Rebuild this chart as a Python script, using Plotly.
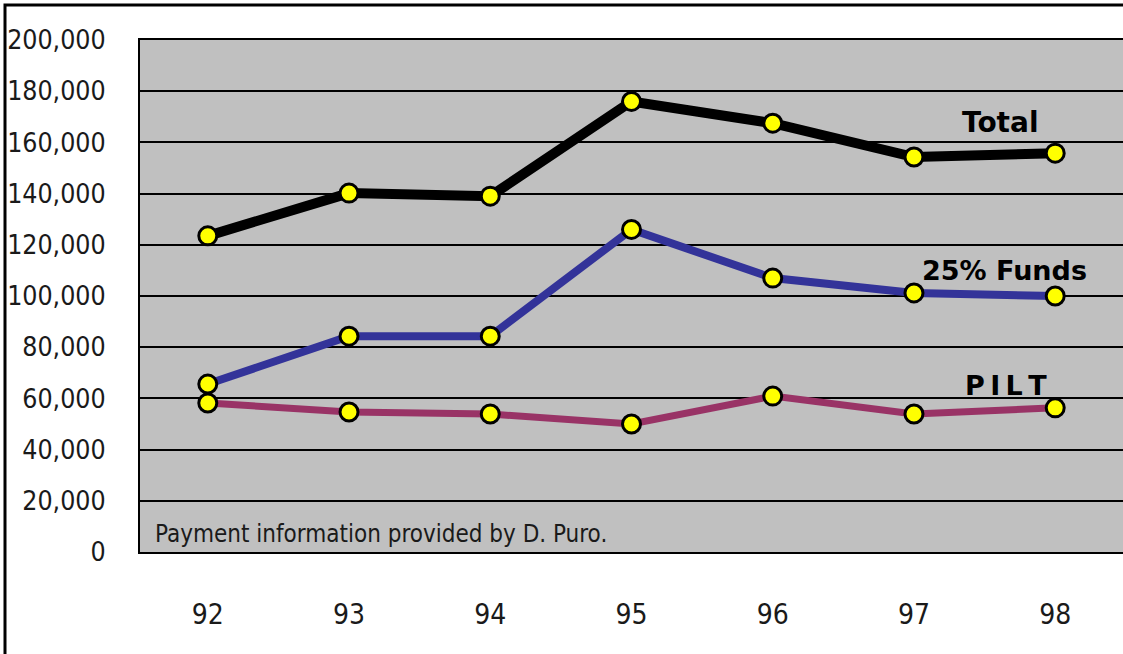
import plotly.graph_objects as go

years = ["92", "93", "94", "95", "96", "97", "98"]
total = [123500, 140200, 139000, 176000, 167500, 154300, 155800]
funds25 = [65600, 84300, 84300, 126000, 107000, 101200, 100000]
pilt = [58200, 54700, 53900, 50000, 60900, 53900, 56300]
y_ticks = [0, 20000, 40000, 60000, 80000, 100000, 120000, 140000, 160000, 180000, 200000]
y_labels = ["0", "20,000", "40,000", "60,000", "80,000", "100,000", "120,000",
            "140,000", "160,000", "180,000", "200,000"]

NARROW = "Liberation Sans Narrow, DejaVu Sans Condensed, Arial Narrow, sans-serif"
BOLD = "DejaVu Sans, Verdana, sans-serif"

fig = go.Figure()
series = [(total, "Total", "#000000", 10), (funds25, "25% Funds", "#333399", 8), (pilt, "PILT", "#993366", 7)]
for vals, name, color, w in series:
    fig.add_trace(go.Scatter(
        x=years, y=vals, name=name, mode="lines+markers",
        line=dict(color=color, width=w),
        marker=dict(color="#FFFF00", size=18, line=dict(color="#000000", width=3)),
        showlegend=False, cliponaxis=False))

fig.add_annotation(x=5.61, y=167600, text="<b>Total</b>", showarrow=False,
                   font=dict(family=BOLD, size=28, color="#000000"))
fig.add_annotation(x=5.64, y=109800, text="<b>25% Funds</b>", showarrow=False,
                   font=dict(family=BOLD, size=27, color="#000000"))
fig.add_annotation(x=5.65, y=65200, text="<b>P\u2009I\u2009L\u2009T</b>", showarrow=False,
                   font=dict(family=BOLD, size=27, color="#000000"))
fig.add_annotation(x=0.013, y=0.035, xref="paper", yref="paper", xanchor="left", yanchor="middle",
                   text="Payment information provided by D. Puro.", showarrow=False,
                   font=dict(family=NARROW, size=24, color="#1a1a1a"))

# outer chart border
fig.add_shape(type="rect", xref="paper", yref="paper",
              x0=(5 - 140) / 983, x1=1.05, y0=-0.3, y1=1 + 35 / 512,
              line=dict(color="#000000", width=3), layer="below")

fig.update_layout(
    width=1123, height=654,
    margin=dict(l=140, r=0, t=40, b=102, autoexpand=False),
    paper_bgcolor="#FFFFFF", plot_bgcolor="#C0C0C0",
    xaxis=dict(type="category", range=[-0.48, 6.48], showgrid=False, ticks="",
               showline=True, linecolor="#000000", linewidth=2, mirror=True,
               automargin=False,
               tickfont=dict(family=NARROW, size=28, color="#1a1a1a"),
               ticklabelstandoff=36),
    yaxis=dict(range=[0, 200000], tickvals=y_ticks, ticktext=y_labels,
               showgrid=True, gridcolor="#000000", gridwidth=2, zeroline=False,
               showline=True, linecolor="#000000", linewidth=2, mirror=True, ticks="",
               automargin=False,
               tickfont=dict(family=NARROW, size=26.5, color="#1a1a1a"),
               ticklabelstandoff=27),
)

fig.write_html("out.html", config={"displayModeBar": False},
               post_script="document.body.style.margin='0';")
